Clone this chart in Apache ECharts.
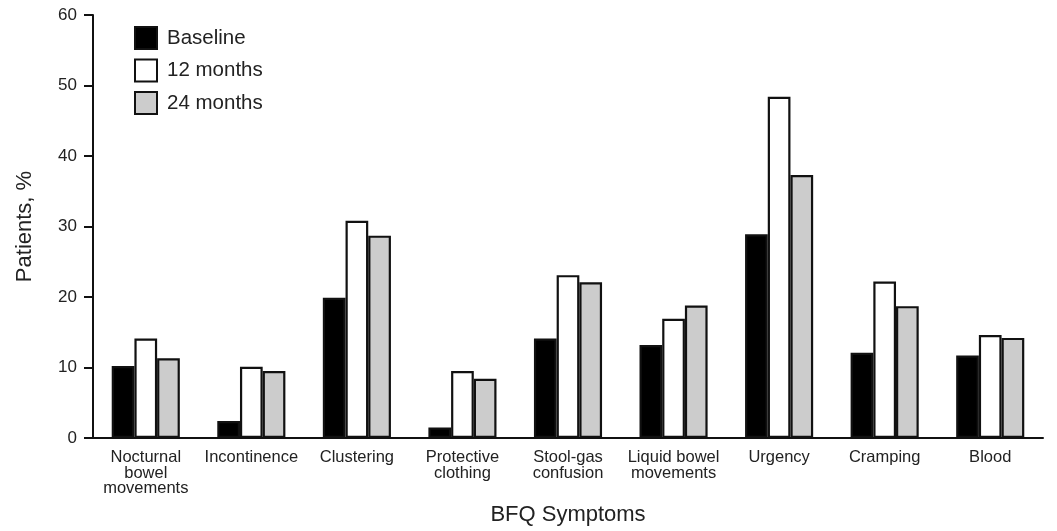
<!DOCTYPE html>
<html><head><meta charset="utf-8">
<script src="https://cdn.jsdelivr.net/npm/echarts@6/dist/echarts.min.js"></script>
<style>html,body{margin:0;padding:0;background:#fff}#c{width:1057px;height:531px}</style>
</head><body><div id="c"></div>
<script>
const categories = ["Nocturnal\nbowel\nmovements","Incontinence","Clustering","Protective\nclothing","Stool-gas\nconfusion","Liquid bowel\nmovements","Urgency","Cramping","Blood"];
const baseline = [10.2, 2.4, 19.9, 1.5, 14.1, 13.2, 28.9, 12.1, 11.7];
const months12 = [14.1, 10.1, 30.8, 9.5, 23.1, 16.9, 48.4, 22.2, 14.6];
const months24 = [11.3, 9.5, 28.7, 8.4, 22.1, 18.8, 37.3, 18.7, 14.2];
const yTicks = [0, 10, 20, 30, 40, 50, 60];

const font = "Liberation Sans, Arial, sans-serif";
const chart = echarts.init(document.getElementById('c'));
const mk = (name, data, color) => ({
  name, type: 'bar', data, barWidth: 22.7, barGap: '0%',
  itemStyle: { color, borderColor: '#111', borderWidth: 2.2 },
  animation: false
});
chart.setOption({
  animation: false,
  grid: { left: 93, right: 14, top: 15, bottom: 93, containLabel: false },
  legend: {
    orient: 'vertical', left: 129, top: 21, itemWidth: 22, itemHeight: 22, itemGap: 8.5,
    icon: 'rect',
    textStyle: { fontFamily: font, fontSize: 20.5, color: '#222', padding: [0,0,0,5] },
    data: ['Baseline','12 months','24 months']
  },
  xAxis: {
    type: 'category', data: categories,
    name: 'BFQ Symptoms', nameLocation: 'middle', nameGap: 66,
    nameTextStyle: { fontFamily: font, fontSize: 22, color: '#222' },
    axisLine: { lineStyle: { color: '#111', width: 2 } },
    axisTick: { show: false },
    axisLabel: { fontFamily: font, fontSize: 16.5, color: '#222', lineHeight: 15.5, margin: 12, interval: 0 }
  },
  yAxis: {
    type: 'value', min: yTicks[0], max: yTicks[yTicks.length-1], interval: 10,
    name: 'Patients, %', nameLocation: 'middle', nameGap: 57,
    nameTextStyle: { fontFamily: font, fontSize: 22, color: '#222' },
    axisLine: { show: true, lineStyle: { color: '#111', width: 2 } },
    axisTick: { show: true, length: 9, lineStyle: { color: '#111', width: 2 } },
    axisLabel: { fontFamily: font, fontSize: 17, color: '#222', margin: 16 },
    splitLine: { show: false }
  },
  series: [
    mk('Baseline', baseline, '#000000'),
    mk('12 months', months12, '#ffffff'),
    mk('24 months', months24, '#cccccc')
  ]
});
</script></body></html>
